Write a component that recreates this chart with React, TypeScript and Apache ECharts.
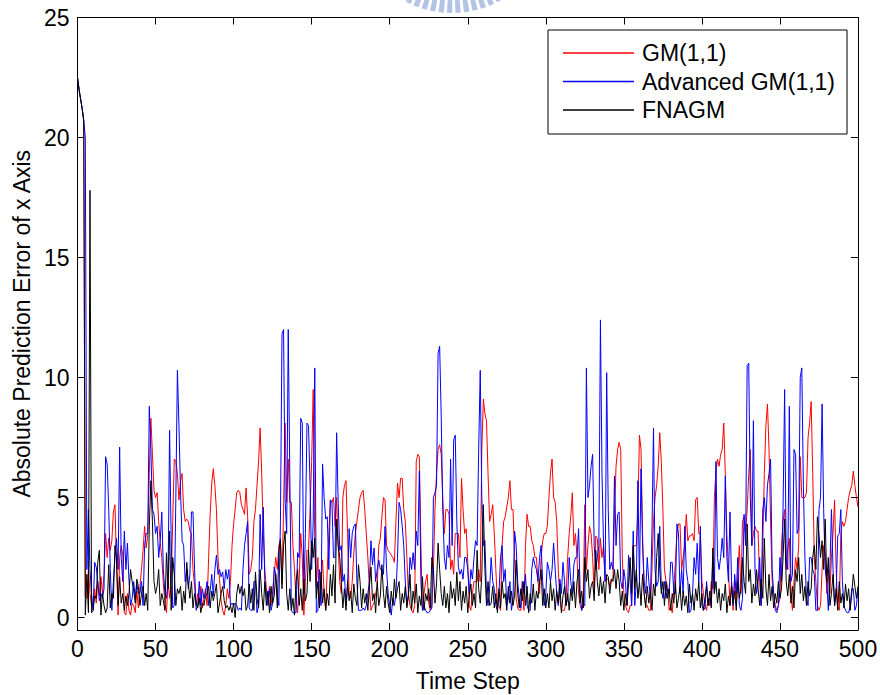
import React, { useEffect, useRef } from "react";
import * as echarts from "echarts";

const FONT = "'Liberation Sans', Arial, Helvetica, sans-serif";
const FONT_SIZE = 23;

const seriesNames = ["GM(1,1)", "Advanced GM(1,1)", "FNAGM"];
const seriesColors = ["#ff0000", "#0000ff", "#000000"];
const yTickValues = [0, 5, 10, 15, 20, 25];
const xAxisMin = 0;
const xAxisMax = 500;
const xTickStep = 50;
const yAxisMin = -0.52;
const yAxisMax = 25;

// GM(1,1) absolute prediction error, time steps 0..500
const gm11: number[] = [
  22.5, 22.0, 21.6, 21.2, 20.7, 0.9, 0.8, 2.0, 1.0, 0.5,
  0.4, 1.2, 0.6, 1.5, 0.9, 1.7, 1.0, 1.8, 3.5, 2.5,
  3.3, 2.8, 3.2, 4.4, 4.7, 2.2, 0.1, 2.5, 3.0, 2.6,
  0.2, 0.1, 1.0, 0.3, 0.1, 0.6, 0.5, 0.2, 1.1, 0.4,
  1.3, 2.0, 2.8, 3.8, 2.9, 3.4, 6.0, 8.3, 6.8, 5.3,
  5.0, 5.2, 4.0, 3.1, 2.5, 1.4, 0.6, 0.2, 1.5, 0.8,
  1.6, 4.0, 6.6, 6.5, 6.0, 4.9, 5.7, 6.0, 4.5, 4.0,
  4.1, 4.0, 3.6, 3.5, 2.0, 1.3, 0.5, 1.0, 0.6, 1.3,
  0.4, 0.8, 1.2, 0.5, 2.5, 4.3, 5.6, 6.2, 5.5, 4.5,
  2.5, 1.6, 0.7, 0.3, 0.1, 0.5, 1.2, 0.8, 1.5, 3.0,
  3.9, 4.5, 5.2, 5.3, 5.2, 4.7, 4.5, 4.3, 5.4, 4.2,
  1.8, 2.0, 2.5, 4.0, 4.5, 5.5, 6.5, 7.9, 6.0, 3.5,
  2.0, 1.2, 0.7, 1.3, 0.5, 1.1, 1.8, 2.5, 2.0, 3.0,
  3.3, 1.4, 4.5, 8.1, 4.8, 6.6, 4.8, 4.8, 3.0, 2.0,
  0.7, 0.2, 1.5, 3.5, 2.5, 0.1, 1.5, 2.8, 2.8, 4.5,
  6.5, 9.5, 3.0, 1.3, 2.5, 0.5, 1.5, 2.4, 1.0, 0.3,
  2.0, 3.5, 4.9, 4.8, 5.0, 3.8, 5.0, 3.0, 1.5, 1.0,
  5.0, 5.5, 5.7, 3.5, 1.0, 0.8, 1.5, 2.7, 3.5, 4.0,
  4.5, 5.0, 5.2, 5.3, 4.5, 3.5, 2.5, 1.2, 0.3, 0.5,
  0.6, 1.0, 1.3, 3.0, 3.3, 4.2, 5.0, 4.9, 3.0, 2.8,
  2.7, 2.6, 2.5, 2.3, 4.0, 5.6, 5.0, 5.8, 5.8, 4.5,
  4.0, 2.5, 1.0, 0.5, 0.3, 0.2, 0.5, 6.5, 6.8, 6.7,
  3.0, 0.3, 1.0, 1.5, 1.8, 0.6, 0.3, 0.5, 2.0, 4.5,
  6.0, 7.0, 7.2, 6.8, 5.0, 3.5, 4.5, 4.5, 4.3, 2.0,
  2.4, 1.8, 3.5, 3.5, 3.5, 2.5, 5.8, 4.5, 3.5, 3.7,
  2.3, 0.5, 0.3, 1.0, 1.5, 1.5, 1.5, 2.0, 1.5, 7.0,
  9.1, 8.5, 8.2, 6.0, 4.0, 4.3, 4.7, 3.5, 2.0, 0.6,
  0.5, 0.3, 3.0, 4.0, 4.2, 4.6, 5.0, 5.7, 4.5, 4.5,
  2.5, 0.8, 0.4, 0.3, 0.3, 1.5, 0.3, 3.0, 4.3, 3.8,
  3.8, 3.2, 3.0, 2.5, 2.5, 1.5, 1.0, 2.5, 3.2, 3.5,
  3.5, 3.8, 5.0, 6.0, 6.6, 5.0, 4.8, 4.0, 2.0, 0.8,
  0.3, 0.3, 0.3, 0.8, 2.5, 3.5, 4.2, 5.2, 3.0, 3.5,
  2.5, 1.0, 0.5, 0.3, 0.8, 4.7, 2.0, 3.0, 3.8, 3.5,
  2.5, 1.0, 3.4, 3.3, 2.0, 3.3, 2.5, 3.0, 1.5, 1.6,
  1.6, 1.3, 1.6, 1.6, 4.3, 6.3, 7.0, 7.3, 7.0, 2.5,
  1.0, 0.5, 0.3, 0.2, 0.5, 0.5, 2.9, 3.0, 3.0, 4.5,
  7.6, 7.0, 3.5, 1.0, 0.5, 0.5, 0.3, 0.3, 2.0, 4.0,
  5.0, 5.5, 6.3, 7.7, 6.5, 4.5, 2.0, 1.5, 1.3, 0.3,
  0.5, 0.2, 1.2, 2.3, 3.5, 3.9, 3.9, 2.0, 2.5, 3.0,
  4.3, 3.2, 3.4, 3.4, 3.5, 3.2, 4.9, 5.0, 3.5, 3.5,
  1.5, 1.0, 0.5, 0.3, 0.8, 0.5, 1.5, 1.2, 5.0, 6.1,
  6.6, 6.3, 6.8, 7.0, 8.1, 6.0, 3.5, 2.0, 0.5, 1.5,
  0.3, 1.5, 0.6, 1.8, 3.0, 1.0, 4.0, 4.2, 3.5, 4.5,
  6.0, 7.0, 3.0, 3.5, 3.8, 3.6, 3.6, 1.5, 0.5, 3.0,
  6.0, 8.0, 8.9, 7.0, 4.0, 1.5, 1.0, 0.5, 0.3, 0.5,
  0.8, 3.0, 4.0, 4.5, 2.0, 2.9, 3.3, 1.0, 0.3, 1.5,
  2.5, 2.0, 3.0, 6.7, 5.0, 5.0, 5.0, 5.2, 7.5, 8.1,
  9.0, 6.0, 2.5, 1.5, 0.5, 0.3, 0.5, 2.0, 3.0, 2.7,
  1.0, 2.0, 1.0, 2.5, 3.5, 4.9, 2.0, 0.5, 0.3, 3.5,
  4.0, 3.8, 4.0, 4.5, 5.0, 5.3, 5.5, 6.1, 5.5, 5.0,
  4.6,
];

// Advanced GM(1,1) absolute prediction error, time steps 0..500
const advancedGm11: number[] = [
  22.5, 22.0, 21.6, 21.2, 20.7, 20.0, 2.0, 4.5, 2.0, 1.0,
  0.3, 2.3, 2.1, 1.5, 0.7, 1.0, 0.8, 1.2, 6.7, 6.4,
  4.5, 2.0, 0.3, 1.5, 2.5, 3.3, 2.0, 7.1, 2.5, 1.5,
  3.6, 2.0, 3.1, 1.5, 0.5, 0.8, 1.5, 0.8, 1.4, 1.0,
  1.0, 1.5, 0.5, 3.0, 3.5, 3.5, 8.8, 7.0, 4.5, 4.3,
  3.5, 3.8, 2.5, 3.2, 4.4, 2.0, 1.0, 0.8, 1.5, 7.8,
  3.3, 0.4, 0.5, 5.0, 10.3, 8.0, 5.3, 3.2, 3.0, 1.5,
  2.0, 1.2, 1.8, 4.4, 4.4, 2.0, 0.3, 0.5, 1.5, 0.5,
  1.2, 0.8, 1.0, 1.5, 0.5, 1.1, 1.8, 0.9, 2.0, 2.6,
  1.8, 2.0, 1.7, 1.9, 1.2, 2.0, 1.6, 2.0, 0.5, 0.6,
  0.5, 0.6, 0.5, 0.3, 0.4, 0.3, 2.0, 3.0, 3.5, 4.0,
  0.4, 0.3, 0.3, 1.5, 1.5, 0.2, 0.5, 4.3, 2.0, 4.6,
  1.5, 1.0, 0.5, 1.2, 0.3, 0.6, 2.1, 1.8, 1.0, 0.5,
  4.0, 11.8, 12.0, 4.9, 3.5, 12.0, 6.0, 0.3, 0.2, 0.2,
  0.2, 2.7, 2.5, 8.3, 8.1, 1.0, 3.5, 8.1, 8.0, 5.5,
  2.0, 4.0, 10.4, 0.2, 0.3, 2.0, 0.5, 6.4, 5.0, 4.1,
  4.2, 2.0, 4.9, 4.8, 2.5, 2.5, 7.7, 4.8, 2.8, 3.0,
  1.5, 1.8, 0.5, 1.3, 3.7, 2.5, 3.5, 3.8, 3.9, 1.5,
  0.3, 0.3, 0.3, 0.4, 0.3, 0.5, 1.0, 1.5, 3.2, 2.2,
  2.9, 1.5, 2.0, 2.4, 2.0, 2.0, 1.8, 3.8, 2.0, 1.0,
  0.5, 0.1, 0.8, 0.5, 1.0, 2.5, 4.8, 4.5, 3.8, 3.0,
  1.5, 0.5, 1.0, 2.5, 2.0, 2.7, 2.0, 3.6, 3.0, 6.1,
  1.5, 0.3, 0.5, 0.3, 0.2, 0.2, 0.3, 0.4, 5.0, 5.2,
  5.5, 11.0, 11.3, 8.4, 4.5, 2.5, 2.0, 3.0, 2.5, 6.6,
  3.0, 7.4, 7.6, 4.0, 2.1, 1.8, 2.0, 1.6, 2.5, 2.5,
  2.0, 1.0, 2.0, 1.6, 2.5, 3.2, 3.0, 7.0, 10.3, 5.0,
  3.0, 3.2, 1.0, 0.5, 1.2, 2.5, 1.5, 1.2, 0.5, 0.3,
  1.0, 2.5, 3.0, 1.5, 2.0, 0.5, 0.8, 1.5, 0.3, 0.8,
  3.6, 3.0, 1.5, 0.8, 0.4, 1.5, 1.0, 1.8, 0.5, 0.3,
  0.3, 2.0, 2.5, 2.2, 2.0, 1.5, 2.5, 3.0, 1.5, 0.5,
  1.0, 2.3, 2.0, 1.5, 2.0, 3.1, 2.0, 1.0, 0.5, 1.6,
  1.0, 2.3, 1.5, 0.5, 0.8, 2.5, 1.5, 1.0, 2.2, 2.5,
  2.5, 3.7, 1.0, 0.3, 0.5, 0.5, 10.4, 5.0, 5.5, 6.3,
  6.8, 3.0, 2.0, 2.5, 3.0, 12.4, 6.0, 3.0, 1.5, 10.2,
  4.5, 2.0, 2.3, 2.0, 5.9, 3.0, 4.3, 4.4, 1.5, 1.2,
  2.0, 1.5, 0.5, 2.6, 1.5, 0.5, 3.6, 0.5, 1.5, 5.7,
  1.5, 6.2, 3.0, 1.5, 1.0, 2.5, 1.5, 0.8, 3.5, 7.9,
  2.0, 1.3, 1.5, 3.8, 1.2, 0.8, 1.5, 0.8, 1.2, 1.0,
  2.3, 2.3, 1.0, 1.0, 3.9, 3.5, 1.0, 2.0, 1.0, 3.8,
  2.0, 1.5, 0.2, 0.3, 1.0, 2.5, 1.8, 3.1, 1.5, 3.8,
  0.5, 0.3, 0.4, 1.5, 0.5, 0.8, 0.5, 2.5, 1.0, 6.5,
  2.5, 2.0, 2.5, 3.3, 2.5, 5.9, 2.5, 1.5, 4.4, 1.5,
  0.5, 1.8, 1.0, 2.5, 0.5, 0.3, 0.8, 4.3, 3.0, 10.5,
  10.6, 5.0, 3.0, 8.2, 2.0, 1.0, 1.5, 2.5, 0.5, 4.5,
  5.0, 4.0, 5.5, 6.0, 6.6, 2.0, 1.0, 0.3, 0.2, 0.5,
  2.5, 1.5, 4.6, 9.5, 2.5, 2.0, 8.8, 1.5, 1.8, 7.0,
  6.8, 3.5, 3.7, 10.0, 10.4, 5.5, 2.5, 0.8, 0.5, 2.5,
  2.5, 2.0, 1.8, 0.3, 0.3, 4.5, 5.0, 8.9, 4.5, 2.0,
  1.5, 0.3, 2.0, 4.5, 2.0, 0.5, 1.0, 3.4, 3.5, 4.5,
  1.5, 0.5, 0.3, 0.2, 0.2, 0.5, 1.2, 1.2, 0.3, 0.5,
  1.2,
];

// FNAGM absolute prediction error, time steps 0..500
const fnagm: number[] = [
  22.5, 22.0, 21.6, 21.2, 20.7, 0.1, 1.8, 0.2, 17.8, 0.2,
  0.3, 0.9, 0.8, 2.3, 2.8, 0.1, 1.0, 0.5, 0.2, 0.4,
  2.2, 0.4, 1.0, 0.8, 3.0, 2.5, 0.5, 1.7, 0.6, 1.0,
  0.3, 0.9, 0.5, 1.0, 2.0, 1.5, 1.1, 0.6, 1.6, 1.3,
  0.5, 1.0, 1.3, 0.5, 1.0, 0.3, 3.8, 5.7, 4.0, 1.5,
  1.0, 1.3, 2.0, 0.5, 1.0, 0.7, 0.3, 2.7, 1.2, 3.6,
  0.3, 2.5, 1.8, 0.5, 1.2, 1.0, 1.3, 0.3, 1.1, 0.6,
  2.3, 1.4, 0.8, 1.5, 0.4, 1.0, 0.6, 0.4, 0.8, 0.2,
  0.6, 0.5, 0.9, 1.0, 1.3, 0.4, 1.1, 0.7, 1.0, 1.4,
  0.2, 0.6, 1.0, 1.3, 0.7, 0.4, 0.5, 0.3, 0.5, 0.2,
  0.6, 0.0, 1.0, 1.4, 1.0, 1.3, 0.9, 1.2, 0.3, 0.5,
  1.4, 0.6, 1.2, 0.3, 1.9, 0.8, 0.4, 2.0, 1.0, 0.3,
  1.5, 0.5, 1.1, 0.2, 1.3, 0.6, 0.9, 1.8, 0.4, 2.8,
  3.2, 1.2, 3.0, 3.6, 1.0, 0.3, 1.2, 0.3, 0.8, 0.1,
  1.5, 2.0, 0.5, 1.2, 0.3, 1.6, 0.7, 1.0, 2.8, 1.5,
  3.2, 2.5, 3.3, 0.8, 1.5, 0.4, 1.9, 0.6, 1.2, 0.3,
  1.0, 0.5, 1.8, 0.9, 2.2, 0.6, 4.1, 3.0, 2.5, 1.5,
  0.4, 1.2, 0.3, 1.5, 0.7, 1.1, 0.2, 1.4, 0.8, 0.5,
  2.2, 1.5, 0.4, 1.2, 0.6, 1.0, 0.3, 1.3, 2.1, 0.7,
  1.0, 0.2, 1.5, 0.5, 0.9, 2.2, 1.0, 0.4, 1.3, 0.6,
  0.2, 1.1, 0.5, 1.6, 0.8, 1.2, 1.5, 0.3, 1.0, 0.6,
  1.3, 0.4, 0.9, 1.8, 0.3, 1.1, 0.6, 1.4, 0.2, 0.9,
  0.5, 1.7, 0.3, 1.0, 0.7, 1.2, 0.4, 2.5, 2.0, 0.6,
  1.4, 3.1, 2.0, 1.0, 0.5, 1.3, 0.4, 1.0, 0.2, 1.5,
  0.8, 1.2, 0.5, 1.9, 0.7, 1.5, 0.3, 1.1, 0.6, 1.3,
  0.2, 0.9, 1.4, 0.5, 1.0, 0.4, 2.8, 1.2, 0.6, 1.8,
  4.7, 2.0, 0.5, 1.5, 0.5, 0.6, 1.3, 0.4, 1.0, 0.2,
  1.2, 0.4, 1.5, 0.8, 1.0, 0.3, 1.3, 0.6, 1.1, 0.5,
  0.9, 2.4, 1.0, 0.4, 1.2, 0.7, 1.5, 0.5, 1.3, 0.2,
  1.0, 0.6, 1.4, 0.3, 1.1, 0.8, 1.5, 2.0, 0.5, 1.2,
  0.4, 1.0, 0.4, 1.5, 0.7, 1.2, 0.3, 1.1, 0.6, 1.4,
  0.2, 0.9, 1.3, 0.5, 1.0, 0.3, 1.2, 0.7, 1.5, 0.4,
  1.5, 2.0, 0.6, 1.1, 0.4, 2.5, 1.5, 2.0, 0.8, 1.3,
  1.5, 0.7, 2.8, 1.5, 0.9, 1.7, 1.0, 1.5, 0.6, 1.8,
  1.7, 1.0, 1.6, 1.5, 2.0, 1.2, 2.0, 1.5, 0.5, 1.1,
  0.3, 1.0, 0.5, 1.4, 2.5, 1.0, 3.0, 1.2, 2.0, 0.8,
  1.5, 0.5, 1.8, 1.0, 0.4, 1.3, 0.6, 1.1, 0.3, 1.4,
  0.9, 2.5, 3.5, 2.0, 1.0, 1.5, 0.5, 1.5, 0.8, 1.2,
  0.3, 1.0, 0.6, 1.5, 0.4, 0.8, 1.3, 0.3, 1.1, 0.5,
  0.9, 0.2, 1.4, 0.6, 1.0, 0.3, 1.2, 0.7, 1.5, 0.4,
  1.0, 0.3, 0.8, 1.3, 0.5, 1.1, 0.4, 2.9, 1.0, 1.5,
  0.6, 1.2, 0.3, 1.0, 0.7, 1.4, 0.2, 0.9, 0.5, 1.3,
  0.6, 1.1, 0.3, 1.5, 0.8, 1.2, 2.5, 1.5, 1.0, 3.9,
  1.5, 2.0, 0.6, 1.4, 0.9, 2.0, 1.2, 0.5, 1.6, 0.8,
  3.3, 1.2, 0.5, 1.8, 0.7, 1.3, 0.4, 1.0, 0.6, 1.5,
  0.8, 1.2, 2.5, 4.1, 1.5, 0.9, 1.8, 0.6, 1.3, 0.4,
  2.0, 1.5, 2.5, 1.0, 1.8, 0.7, 1.3, 0.5, 1.5, 0.9,
  1.2, 2.5, 3.0, 2.0, 4.2, 3.5, 2.5, 3.2, 2.0, 4.1,
  1.5, 2.5, 0.5, 1.0, 1.8, 0.5, 1.2, 0.3, 1.5, 0.6,
  1.0, 0.4, 1.4, 0.7, 1.2, 0.3, 1.0, 1.8, 1.3, 0.8,
  1.3,
];

const seriesValues = [gm11, advancedGm11, fnagm];

const App: React.FC = () => {
  const ref = useRef<HTMLDivElement>(null);

  useEffect(() => {
    if (!ref.current) return;
    const chart = echarts.init(ref.current, undefined, { renderer: "svg" });

    const axisLineStyle = { color: "#000", width: 1 };
    const labelStyle = { color: "#000", fontSize: FONT_SIZE, fontFamily: FONT };

    const option: any = {
      animation: false,
      backgroundColor: "#ffffff",
      textStyle: { fontFamily: FONT },
      color: seriesColors,
      grid: { left: 77.5, right: 22, top: 17.5, bottom: 65, outerBoundsMode: "none" },
      graphic: [
        {
          type: "arc",
          silent: true,
          shape: { cx: 452, cy: -86, r: 92, startAngle: 0, endAngle: Math.PI, clockwise: true },
          style: { stroke: "#b3c3e6", lineWidth: 14, lineDash: [5, 3], fill: null },
        },
      ],
      legend: {
        orient: "vertical",
        left: 548,
        top: 30,
        data: seriesNames.map((name, i) => ({
          name,
          icon: "rect",
          itemStyle: { color: seriesColors[i], borderWidth: 0 },
        })),
        itemWidth: 71,
        itemHeight: 1.5,
        itemGap: 4.5,
        padding: [11, 12, 12, 15],
        borderColor: "#000",
        borderWidth: 1,
        backgroundColor: "#fff",
        selectedMode: false,
        textStyle: { ...labelStyle, lineHeight: 24, padding: [0, 0, 0, 3] },
      },
      xAxis: [
        {
          type: "value",
          position: "bottom",
          min: xAxisMin,
          max: xAxisMax,
          interval: xTickStep,
          axisLine: { show: true, onZero: false, lineStyle: axisLineStyle },
          axisTick: { show: true, inside: true, length: 7, lineStyle: axisLineStyle },
          axisLabel: { ...labelStyle, margin: 7 },
          splitLine: { show: false },
          name: "Time Step",
          nameLocation: "middle",
          nameGap: 39,
          nameTextStyle: labelStyle,
        },
        {
          type: "value",
          position: "top",
          min: xAxisMin,
          max: xAxisMax,
          interval: xTickStep,
          axisLine: { show: true, onZero: false, lineStyle: axisLineStyle },
          axisTick: { show: true, inside: true, length: 7, lineStyle: axisLineStyle },
          axisLabel: { show: false },
          splitLine: { show: false },
        },
      ],
      yAxis: [
        {
          type: "value",
          position: "left",
          min: yAxisMin,
          max: yAxisMax,
          axisLine: { show: true, onZero: false, lineStyle: axisLineStyle },
          axisTick: { show: true, inside: true, length: 7, lineStyle: axisLineStyle, customValues: yTickValues },
          axisLabel: { ...labelStyle, margin: 8, customValues: yTickValues },
          splitLine: { show: false },
          name: "Absolute Prediction Error of x Axis",
          nameLocation: "middle",
          nameRotate: 90,
          nameGap: 44,
          nameTextStyle: labelStyle,
        },
        {
          type: "value",
          position: "right",
          min: yAxisMin,
          max: yAxisMax,
          axisLine: { show: true, onZero: false, lineStyle: axisLineStyle },
          axisTick: { show: true, inside: true, length: 7, lineStyle: axisLineStyle, customValues: yTickValues },
          axisLabel: { show: false, customValues: yTickValues },
          splitLine: { show: false },
        },
      ],
      series: seriesNames.map((name, i) => ({
        name,
        type: "line",
        xAxisIndex: 0,
        yAxisIndex: 0,
        data: seriesValues[i].map((v, t) => [t, v]),
        showSymbol: false,
        symbol: "none",
        color: seriesColors[i],
        itemStyle: { color: seriesColors[i] },
        lineStyle: { color: seriesColors[i], width: 1 },
        emphasis: { disabled: true },
        z: 2 + i,
      })),
    };

    chart.setOption(option);
    return () => chart.dispose();
  }, []);

  return (
    <div
      ref={ref}
      style={{ position: "fixed", left: 0, top: 0, width: 880, height: 695, background: "#fff" }}
    />
  );
};

export default App;
